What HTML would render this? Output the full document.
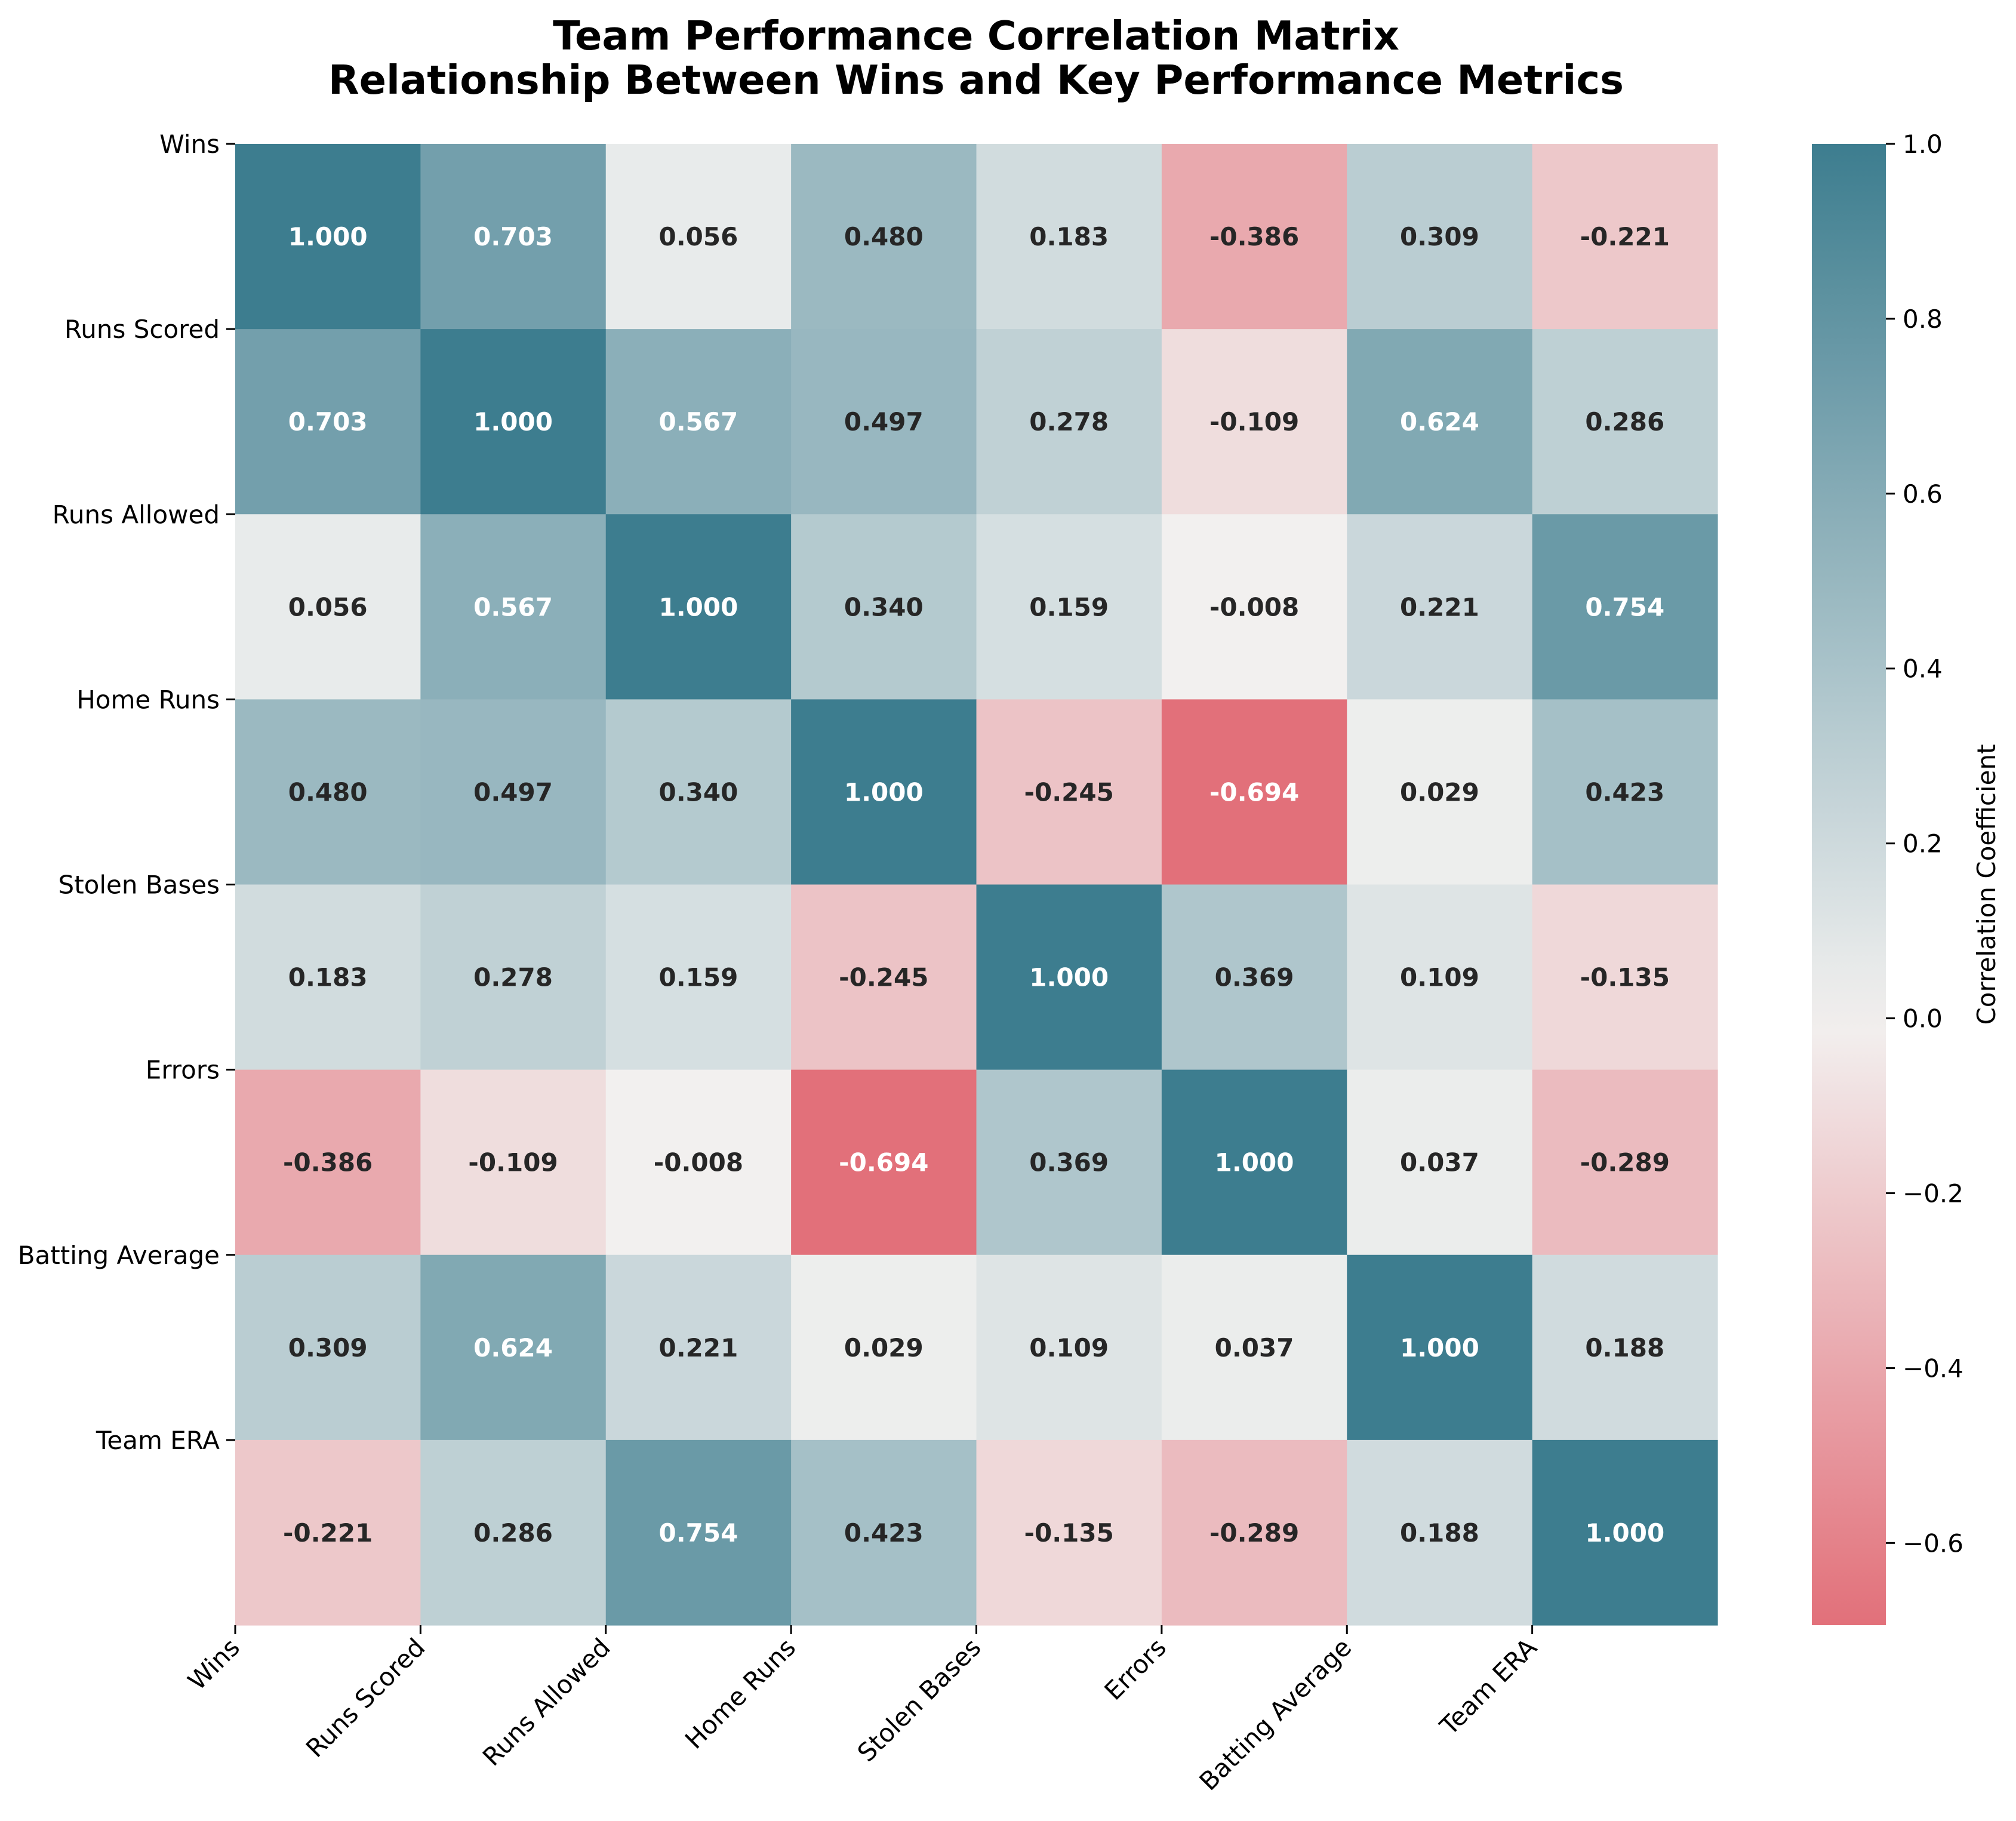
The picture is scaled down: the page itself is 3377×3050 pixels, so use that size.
<!DOCTYPE html>
<html><head><meta charset="utf-8">
<style>
html,body{margin:0;padding:0;background:#fff;}
svg{display:block;font-family:"DejaVu Sans","Liberation Sans",sans-serif;}
</style></head>
<body>
<svg id="chart" width="3377" height="3050" viewBox="0 0 3377 3050" xmlns="http://www.w3.org/2000/svg">
<defs><linearGradient id="cbgrad" x1="0" y1="1" x2="0" y2="0"></linearGradient></defs>
<text x="1635" y="83" text-anchor="middle" font-size="67" font-weight="bold">Team Performance Correlation Matrix</text>
<text x="1635" y="157" text-anchor="middle" font-size="67" font-weight="bold">Relationship Between Wins and Key Performance Metrics</text>
<g id="cells"></g><g id="labels"></g><g id="cbar"></g>
</svg>
<script>
const categories = ["Wins","Runs Scored","Runs Allowed","Home Runs","Stolen Bases","Errors","Batting Average","Team ERA"];
const row0 = [1.000,0.703,0.056,0.480,0.183,-0.386,0.309,-0.221];
const row1 = [0.703,1.000,0.567,0.497,0.278,-0.109,0.624,0.286];
const row2 = [0.056,0.567,1.000,0.340,0.159,-0.008,0.221,0.754];
const row3 = [0.480,0.497,0.340,1.000,-0.245,-0.694,0.029,0.423];
const row4 = [0.183,0.278,0.159,-0.245,1.000,0.369,0.109,-0.135];
const row5 = [-0.386,-0.109,-0.008,-0.694,0.369,1.000,0.037,-0.289];
const row6 = [0.309,0.624,0.221,0.029,0.109,0.037,1.000,0.188];
const row7 = [-0.221,0.286,0.754,0.423,-0.135,-0.289,0.188,1.000];
const matrix = [row0,row1,row2,row3,row4,row5,row6,row7];
const cbTicks = [1.0,0.8,0.6,0.4,0.2,0.0,-0.2,-0.4,-0.6];
const vmin = -0.694, vmax = 1.0;

const NS="http://www.w3.org/2000/svg";
const L=394,R=2877,T=241,B=2722;
const n=categories.length, cw=(R-L)/n, ch=(B-T)/n;
const xs=i=>L+i*cw, ys=i=>T+i*ch;
const CB_L=3035, CB_R=3159;
const cy=v=>T+(vmax-v)/(vmax-vmin)*(B-T);
const pos=[61,125,143], mid=[242,241,240], neg=[219,55,70];
function color(v){
  const t=Math.min(1,Math.abs(v)); const e=v>=0?pos:neg;
  const c=mid.map((m,k)=>Math.round(m+(e[k]-m)*t));
  return `rgb(${c[0]},${c[1]},${c[2]})`;
}
function mk(tag,attrs,parent,txt){const e=document.createElementNS(NS,tag);for(const k in attrs)e.setAttribute(k,attrs[k]);if(txt!==undefined)e.textContent=txt;parent.appendChild(e);return e;}
const cells=document.getElementById('cells');
matrix.forEach((row,i)=>row.forEach((v,j)=>{
  const r=mk('rect',{x:xs(j),y:ys(i),width:cw+0.6,height:ch+0.6,fill:color(v)},cells);
  
  
  const t=mk('text',{x:xs(j)+cw/2,y:ys(i)+ch/2+15,'text-anchor':'middle','font-size':42,'font-weight':'bold',fill:Math.abs(v)>0.55?'#ffffff':'#262626'},cells,v.toFixed(3).replace('-','-'));
  
  
}));
const lab=document.getElementById('labels');
categories.forEach((c,i)=>{
  mk('line',{x1:L-15,x2:L,y1:ys(i),y2:ys(i),stroke:'#000','stroke-width':3},lab);
  const yl=mk('text',{x:L-26,y:ys(i)+15,'text-anchor':'end','font-size':42},lab,c);
  
  
  mk('line',{x1:xs(i),x2:xs(i),y1:B,y2:B+15,stroke:'#000','stroke-width':3},lab);
  const xl=mk('text',{x:0,y:0,'text-anchor':'end','font-size':42,transform:`translate(${xs(i)+10},${B+40}) rotate(-45)`},lab,c);
  
  
});
const g=document.getElementById('cbgrad');
for(let k=0;k<=20;k++){const v=vmin+(vmax-vmin)*k/20;mk('stop',{offset:(k/20),'stop-color':color(v)},g);}
const cb=document.getElementById('cbar');
const cbr=mk('rect',{x:CB_L,y:T,width:CB_R-CB_L,height:B-T,fill:'url(#cbgrad)'},cb);


cbTicks.forEach(v=>{
  mk('line',{x1:CB_R,x2:CB_R+15,y1:cy(v),y2:cy(v),stroke:'#000','stroke-width':3},cb);
  const t=mk('text',{x:CB_R+28,y:cy(v)+15,'font-size':42},cb,(v<0?'\u2212':'')+Math.abs(v).toFixed(1));
  
  
});
const cl=mk('text',{x:0,y:0,'text-anchor':'middle','font-size':42,transform:`translate(3342,${(T+B)/2}) rotate(-90)`},cb,'Correlation Coefficient');


</script>
</body></html>
